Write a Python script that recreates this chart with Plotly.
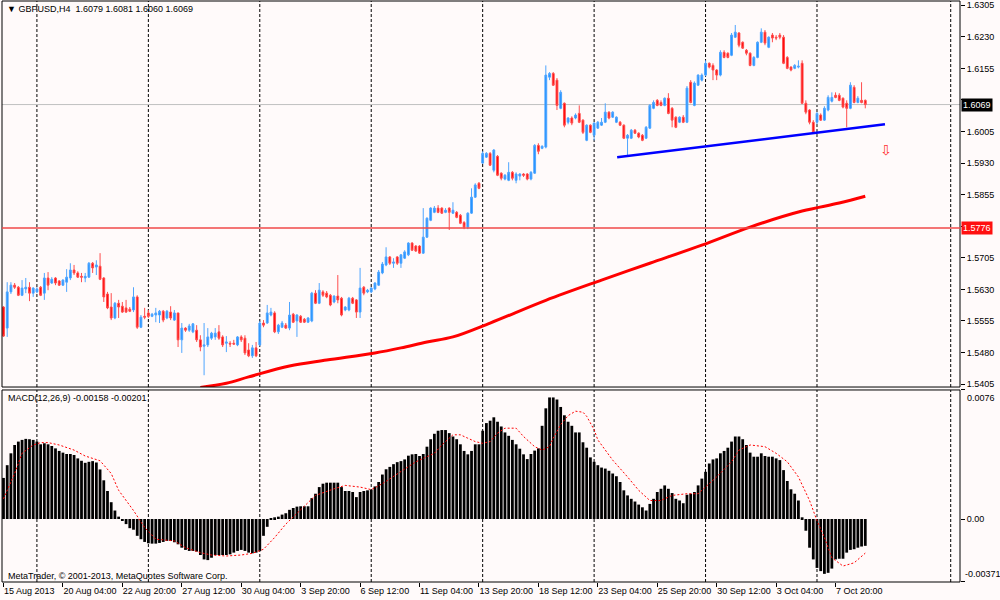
import plotly.graph_objects as go

# GBPUSD H4 candles, one entry per bar (bar index is used on the x axis)
opens = [
    1.5588, 1.5538, 1.5624, 1.5640, 1.5635, 1.5616, 1.5631, 1.5635, 1.5621, 1.5624,
    1.5635, 1.5621, 1.5657, 1.5645, 1.5657, 1.5650, 1.5640, 1.5647, 1.5657, 1.5676,
    1.5669, 1.5661, 1.5657, 1.5659, 1.5692, 1.5683, 1.5685, 1.5657, 1.5619, 1.5588,
    1.5562, 1.5597, 1.5590, 1.5586, 1.5583, 1.5581, 1.5612, 1.5540, 1.5566, 1.5574,
    1.5566, 1.5569, 1.5569, 1.5578, 1.5562, 1.5576, 1.5557, 1.5574, 1.5510, 1.5538,
    1.5533, 1.5529, 1.5533, 1.5510, 1.5495, 1.5498, 1.5514, 1.5517, 1.5529, 1.5517,
    1.5502, 1.5502, 1.5502, 1.5498, 1.5517, 1.5514, 1.5486, 1.5472, 1.5491, 1.5498,
    1.5550, 1.5550, 1.5569, 1.5574, 1.5529, 1.5540, 1.5545, 1.5538, 1.5571, 1.5555,
    1.5566, 1.5559, 1.5552, 1.5555, 1.5621, 1.5597, 1.5624, 1.5621, 1.5616, 1.5600,
    1.5614, 1.5609, 1.5581, 1.5581, 1.5609, 1.5605, 1.5576, 1.5635, 1.5624, 1.5624,
    1.5631, 1.5640, 1.5669, 1.5688, 1.5707, 1.5692, 1.5707, 1.5692, 1.5704, 1.5712,
    1.5740, 1.5733, 1.5733, 1.5716, 1.5754, 1.5794, 1.5813, 1.5823, 1.5823, 1.5813,
    1.5823, 1.5811, 1.5813, 1.5806, 1.5789, 1.5778, 1.5811, 1.5849, 1.5882, 1.5930,
    1.5944, 1.5953, 1.5913, 1.5946, 1.5906, 1.5892, 1.5889, 1.5908, 1.5889, 1.5899,
    1.5904, 1.5904, 1.5892, 1.5906, 1.5972, 1.5965, 1.5968, 1.6134, 1.6143, 1.6127,
    1.6060, 1.6072, 1.6027, 1.6037, 1.6037, 1.6048, 1.6032, 1.5984, 1.6020, 1.5996,
    1.6013, 1.6020, 1.6027, 1.6051, 1.6039, 1.6027, 1.6027, 1.6020, 1.5989, 1.5989,
    1.6008, 1.6001, 1.5996, 1.5989, 1.6013, 1.6060, 1.6079, 1.6074, 1.6067, 1.6084,
    1.6060, 1.6039, 1.6027, 1.6039, 1.6027, 1.6122, 1.6067, 1.6115, 1.6127, 1.6139,
    1.6167, 1.6162, 1.6151, 1.6139, 1.6193, 1.6191, 1.6186, 1.6229, 1.6239, 1.6217,
    1.6198, 1.6191, 1.6162, 1.6181, 1.6217, 1.6241, 1.6205, 1.6234, 1.6229, 1.6234,
    1.6229, 1.6181, 1.6158, 1.6155, 1.6158, 1.6167, 1.6072, 1.6056, 1.6027, 1.6027,
    1.6044, 1.6032, 1.6056, 1.6077, 1.6091, 1.6091, 1.6084, 1.6072, 1.6060, 1.6110,
    1.6074, 1.6079, 1.6079,
]
highs = [
    1.5590, 1.5647, 1.5647, 1.5645, 1.5638, 1.5652, 1.5657, 1.5647, 1.5635, 1.5635,
    1.5638, 1.5669, 1.5671, 1.5659, 1.5659, 1.5652, 1.5654, 1.5678, 1.5692, 1.5688,
    1.5673, 1.5669, 1.5669, 1.5695, 1.5695, 1.5699, 1.5716, 1.5659, 1.5624, 1.5621,
    1.5600, 1.5605, 1.5600, 1.5605, 1.5588, 1.5635, 1.5616, 1.5569, 1.5586, 1.5581,
    1.5574, 1.5586, 1.5581, 1.5581, 1.5581, 1.5590, 1.5581, 1.5574, 1.5550, 1.5540,
    1.5548, 1.5550, 1.5545, 1.5521, 1.5550, 1.5538, 1.5529, 1.5538, 1.5545, 1.5521,
    1.5519, 1.5507, 1.5510, 1.5519, 1.5521, 1.5521, 1.5502, 1.5498, 1.5505, 1.5555,
    1.5557, 1.5593, 1.5586, 1.5578, 1.5548, 1.5555, 1.5550, 1.5600, 1.5574, 1.5571,
    1.5569, 1.5562, 1.5564, 1.5624, 1.5628, 1.5645, 1.5628, 1.5626, 1.5619, 1.5616,
    1.5664, 1.5612, 1.5590, 1.5612, 1.5612, 1.5607, 1.5681, 1.5638, 1.5631, 1.5635,
    1.5647, 1.5676, 1.5695, 1.5730, 1.5709, 1.5704, 1.5709, 1.5714, 1.5723, 1.5742,
    1.5742, 1.5735, 1.5735, 1.5823, 1.5801, 1.5825, 1.5828, 1.5830, 1.5825, 1.5823,
    1.5825, 1.5837, 1.5816, 1.5809, 1.5792, 1.5813, 1.5870, 1.5882, 1.5885, 1.5958,
    1.5956, 1.5956, 1.5963, 1.5949, 1.5908, 1.5904, 1.5932, 1.5911, 1.5908, 1.5906,
    1.5906, 1.5906, 1.5911, 1.5975, 1.5977, 1.5972, 1.6162, 1.6146, 1.6146, 1.6132,
    1.6103, 1.6074, 1.6039, 1.6041, 1.6048, 1.6067, 1.6034, 1.6022, 1.6022, 1.6027,
    1.6030, 1.6037, 1.6072, 1.6053, 1.6053, 1.6041, 1.6030, 1.6022, 1.5999, 1.6011,
    1.6011, 1.6003, 1.5999, 1.6018, 1.6070, 1.6079, 1.6082, 1.6079, 1.6086, 1.6096,
    1.6063, 1.6041, 1.6041, 1.6044, 1.6113, 1.6127, 1.6124, 1.6141, 1.6143, 1.6174,
    1.6169, 1.6167, 1.6153, 1.6198, 1.6198, 1.6193, 1.6239, 1.6258, 1.6241, 1.6219,
    1.6201, 1.6193, 1.6184, 1.6219, 1.6250, 1.6246, 1.6231, 1.6239, 1.6234, 1.6239,
    1.6234, 1.6184, 1.6160, 1.6165, 1.6174, 1.6174, 1.6079, 1.6058, 1.6032, 1.6051,
    1.6048, 1.6065, 1.6091, 1.6098, 1.6098, 1.6096, 1.6086, 1.6079, 1.6122, 1.6115,
    1.6089, 1.6122, 1.6081,
]
lows = [
    1.5517, 1.5517, 1.5619, 1.5631, 1.5614, 1.5614, 1.5621, 1.5602, 1.5612, 1.5621,
    1.5614, 1.5605, 1.5628, 1.5643, 1.5640, 1.5638, 1.5638, 1.5624, 1.5652, 1.5664,
    1.5657, 1.5647, 1.5647, 1.5657, 1.5669, 1.5664, 1.5652, 1.5600, 1.5583, 1.5557,
    1.5559, 1.5562, 1.5574, 1.5574, 1.5576, 1.5576, 1.5536, 1.5538, 1.5559, 1.5562,
    1.5564, 1.5552, 1.5550, 1.5552, 1.5559, 1.5557, 1.5555, 1.5493, 1.5479, 1.5529,
    1.5529, 1.5526, 1.5505, 1.5483, 1.5426, 1.5493, 1.5510, 1.5510, 1.5510, 1.5493,
    1.5481, 1.5493, 1.5498, 1.5495, 1.5505, 1.5474, 1.5469, 1.5467, 1.5469, 1.5495,
    1.5540, 1.5548, 1.5566, 1.5526, 1.5524, 1.5538, 1.5536, 1.5533, 1.5550, 1.5517,
    1.5550, 1.5550, 1.5550, 1.5552, 1.5595, 1.5595, 1.5612, 1.5609, 1.5590, 1.5597,
    1.5597, 1.5566, 1.5578, 1.5578, 1.5595, 1.5562, 1.5562, 1.5616, 1.5621, 1.5621,
    1.5628, 1.5638, 1.5666, 1.5685, 1.5688, 1.5681, 1.5688, 1.5681, 1.5702, 1.5709,
    1.5721, 1.5719, 1.5714, 1.5714, 1.5752, 1.5792, 1.5811, 1.5811, 1.5809, 1.5811,
    1.5771, 1.5809, 1.5799, 1.5785, 1.5773, 1.5773, 1.5809, 1.5847, 1.5868, 1.5928,
    1.5942, 1.5923, 1.5908, 1.5899, 1.5889, 1.5889, 1.5887, 1.5889, 1.5882, 1.5889,
    1.5897, 1.5889, 1.5889, 1.5904, 1.5951, 1.5963, 1.5965, 1.6127, 1.6113, 1.6056,
    1.6058, 1.6015, 1.6022, 1.6020, 1.6034, 1.6025, 1.5999, 1.5982, 1.6001, 1.5984,
    1.6011, 1.6018, 1.6025, 1.6034, 1.6037, 1.6025, 1.6018, 1.5987, 1.5949, 1.5987,
    1.5999, 1.5989, 1.5982, 1.5987, 1.6011, 1.6058, 1.6065, 1.6065, 1.6065, 1.6046,
    1.6015, 1.6013, 1.6025, 1.6025, 1.6025, 1.6072, 1.6065, 1.6113, 1.6124, 1.6136,
    1.6155, 1.6127, 1.6127, 1.6136, 1.6179, 1.6179, 1.6184, 1.6227, 1.6205, 1.6201,
    1.6186, 1.6160, 1.6160, 1.6179, 1.6215, 1.6210, 1.6203, 1.6217, 1.6222, 1.6224,
    1.6165, 1.6153, 1.6148, 1.6153, 1.6155, 1.6070, 1.6046, 1.6022, 1.5999, 1.6022,
    1.6030, 1.6030, 1.6053, 1.6074, 1.6084, 1.6077, 1.6060, 1.6015, 1.6058, 1.6072,
    1.6072, 1.6072, 1.6060,
]
closes = [
    1.5519, 1.5624, 1.5640, 1.5635, 1.5616, 1.5633, 1.5635, 1.5621, 1.5633, 1.5631,
    1.5616, 1.5657, 1.5640, 1.5654, 1.5645, 1.5640, 1.5652, 1.5659, 1.5676, 1.5669,
    1.5659, 1.5659, 1.5661, 1.5692, 1.5681, 1.5688, 1.5654, 1.5612, 1.5586, 1.5562,
    1.5597, 1.5588, 1.5576, 1.5576, 1.5578, 1.5612, 1.5540, 1.5564, 1.5564, 1.5566,
    1.5571, 1.5574, 1.5578, 1.5557, 1.5578, 1.5562, 1.5574, 1.5510, 1.5538, 1.5533,
    1.5543, 1.5548, 1.5510, 1.5493, 1.5498, 1.5517, 1.5526, 1.5526, 1.5514, 1.5498,
    1.5505, 1.5500, 1.5500, 1.5517, 1.5510, 1.5479, 1.5472, 1.5491, 1.5472, 1.5550,
    1.5545, 1.5574, 1.5576, 1.5529, 1.5545, 1.5550, 1.5538, 1.5569, 1.5552, 1.5569,
    1.5552, 1.5552, 1.5562, 1.5621, 1.5597, 1.5628, 1.5616, 1.5612, 1.5593, 1.5614,
    1.5605, 1.5569, 1.5588, 1.5609, 1.5597, 1.5576, 1.5633, 1.5621, 1.5628, 1.5633,
    1.5645, 1.5671, 1.5690, 1.5707, 1.5692, 1.5695, 1.5692, 1.5712, 1.5719, 1.5740,
    1.5723, 1.5721, 1.5716, 1.5754, 1.5799, 1.5823, 1.5823, 1.5813, 1.5811, 1.5818,
    1.5813, 1.5818, 1.5801, 1.5787, 1.5778, 1.5811, 1.5849, 1.5878, 1.5870, 1.5953,
    1.5953, 1.5925, 1.5961, 1.5901, 1.5894, 1.5901, 1.5908, 1.5894, 1.5904, 1.5904,
    1.5901, 1.5892, 1.5908, 1.5972, 1.5958, 1.5970, 1.6139, 1.6143, 1.6115, 1.6067,
    1.6098, 1.6020, 1.6037, 1.6025, 1.6044, 1.6027, 1.6003, 1.6020, 1.6003, 1.6025,
    1.6027, 1.6027, 1.6051, 1.6037, 1.6051, 1.6039, 1.6020, 1.5989, 1.5996, 1.6008,
    1.6001, 1.5992, 1.5984, 1.6015, 1.6067, 1.6074, 1.6067, 1.6067, 1.6084, 1.6048,
    1.6032, 1.6015, 1.6039, 1.6027, 1.6108, 1.6074, 1.6120, 1.6139, 1.6139, 1.6167,
    1.6158, 1.6151, 1.6139, 1.6193, 1.6181, 1.6181, 1.6234, 1.6241, 1.6210, 1.6203,
    1.6191, 1.6162, 1.6181, 1.6217, 1.6241, 1.6215, 1.6229, 1.6227, 1.6227, 1.6229,
    1.6167, 1.6155, 1.6151, 1.6162, 1.6160, 1.6072, 1.6051, 1.6027, 1.6003, 1.6048,
    1.6032, 1.6060, 1.6086, 1.6086, 1.6086, 1.6079, 1.6063, 1.6060, 1.6115, 1.6074,
    1.6084, 1.6074, 1.6069,
]

# MACD(12,26,9) main line (histogram) per bar
macd = [
    0.00242, 0.00317, 0.00387, 0.00436, 0.00456, 0.00466, 0.00472, 0.00470, 0.00466, 0.00456,
    0.00440, 0.00446, 0.00440, 0.00430, 0.00416, 0.00401, 0.00391, 0.00383, 0.00383, 0.00377,
    0.00357, 0.00343, 0.00331, 0.00337, 0.00341, 0.00333, 0.00292, 0.00228, 0.00165, 0.00099,
    0.00050, 0.00014, -0.00010, -0.00030, -0.00054, -0.00063, -0.00099, -0.00119, -0.00135, -0.00143,
    -0.00145, -0.00145, -0.00141, -0.00135, -0.00129, -0.00129, -0.00137, -0.00149, -0.00169, -0.00182,
    -0.00188, -0.00188, -0.00192, -0.00212, -0.00238, -0.00242, -0.00228, -0.00212, -0.00212, -0.00212,
    -0.00212, -0.00208, -0.00198, -0.00188, -0.00182, -0.00188, -0.00198, -0.00202, -0.00198, -0.00188,
    -0.00099, -0.00046, 0.00004, 0.00010, 0.00014, 0.00026, 0.00034, 0.00054, 0.00065, 0.00073,
    0.00075, 0.00075, 0.00075, 0.00123, 0.00149, 0.00188, 0.00208, 0.00214, 0.00214, 0.00214,
    0.00214, 0.00188, 0.00165, 0.00165, 0.00159, 0.00129, 0.00159, 0.00165, 0.00169, 0.00173,
    0.00192, 0.00218, 0.00262, 0.00293, 0.00307, 0.00323, 0.00335, 0.00341, 0.00351, 0.00373,
    0.00381, 0.00383, 0.00371, 0.00383, 0.00426, 0.00470, 0.00502, 0.00520, 0.00524, 0.00524,
    0.00506, 0.00486, 0.00470, 0.00440, 0.00401, 0.00381, 0.00401, 0.00440, 0.00440, 0.00520,
    0.00565, 0.00579, 0.00599, 0.00573, 0.00545, 0.00510, 0.00490, 0.00466, 0.00440, 0.00414,
    0.00381, 0.00353, 0.00383, 0.00403, 0.00416, 0.00549, 0.00652, 0.00716, 0.00716, 0.00704,
    0.00660, 0.00611, 0.00573, 0.00549, 0.00510, 0.00510, 0.00452, 0.00420, 0.00363, 0.00337,
    0.00317, 0.00303, 0.00297, 0.00284, 0.00268, 0.00252, 0.00218, 0.00169, 0.00139, 0.00119,
    0.00103, 0.00085, 0.00069, 0.00050, 0.00089, 0.00119, 0.00159, 0.00178, 0.00198, 0.00178,
    0.00153, 0.00119, 0.00109, 0.00093, 0.00143, 0.00149, 0.00159, 0.00198, 0.00238, 0.00278,
    0.00327, 0.00351, 0.00357, 0.00387, 0.00401, 0.00420, 0.00456, 0.00486, 0.00486, 0.00470,
    0.00436, 0.00391, 0.00367, 0.00367, 0.00387, 0.00371, 0.00367, 0.00367, 0.00357, 0.00347,
    0.00288, 0.00224, 0.00175, 0.00149, 0.00109, 0.00010, -0.00069, -0.00169, -0.00238, -0.00288,
    -0.00307, -0.00323, -0.00317, -0.00292, -0.00238, -0.00234, -0.00234, -0.00198, -0.00182, -0.00178,
    -0.00169, -0.00162, -0.00158,
]

# MACD signal line, read at a subset of bars
sig_idx = [0, 3, 5, 8, 10, 12, 15, 19, 22, 26, 29, 31, 35, 38, 41, 46, 49, 53, 56, 60,
           64, 67, 70, 73, 76, 79, 80, 84, 89, 92, 96, 99, 102, 107, 111, 116, 118, 121, 123, 125,
           127, 129, 131, 133, 135, 138, 140, 143, 145, 147, 148, 150, 152, 154, 156, 157, 159, 160, 161, 164,
           168, 171, 174, 177, 180, 184, 187, 189, 192, 196, 198, 201, 205, 208, 211, 214, 217, 219, 221, 223,
           226, 229, 232]
sig_val = [0.00119, 0.00268, 0.00387, 0.00436, 0.00450, 0.00450, 0.00436, 0.00406, 0.00371, 0.00343,
           0.00268, 0.00169, 0.00050, -0.00050, -0.00119, -0.00129, -0.00169, -0.00198, -0.00212, -0.00218,
           -0.00212, -0.00202, -0.00178, -0.00109, -0.00030, 0.00034, 0.00050, 0.00139, 0.00178, 0.00198,
           0.00188, 0.00173, 0.00208, 0.00278, 0.00337, 0.00387, 0.00436, 0.00496, 0.00496, 0.00476,
           0.00456, 0.00446, 0.00456, 0.00506, 0.00535, 0.00535, 0.00486, 0.00426, 0.00406, 0.00426,
           0.00476, 0.00556, 0.00609, 0.00635, 0.00629, 0.00605, 0.00526, 0.00466, 0.00436, 0.00347,
           0.00248, 0.00169, 0.00109, 0.00109, 0.00139, 0.00149, 0.00149, 0.00188, 0.00248, 0.00337,
           0.00406, 0.00436, 0.00426, 0.00387, 0.00337, 0.00248, 0.00109, -0.00010, -0.00109, -0.00228,
           -0.00277, -0.00258, -0.00201]

# red moving average, read at a subset of bars
ma_idx = [53, 60, 66, 77, 87, 100, 107, 114, 121, 131, 146, 161, 174, 188, 201, 215, 225, 232]
ma_val = [1.5397, 1.5407, 1.5422, 1.5448, 1.5462, 1.5479, 1.5491, 1.5505, 1.5517, 1.5550,
          1.5604, 1.5652, 1.5692, 1.5735, 1.5778, 1.5816, 1.5835, 1.5851]

# blue support trendline
trend_idx = [165.2, 237.3]
trend_val = [1.5944, 1.6022]

date_labels = ["15 Aug 2013", "20 Aug 04:00", "22 Aug 20:00", "27 Aug 12:00", "30 Aug 04:00",
               "3 Sep 20:00", "6 Sep 12:00", "11 Sep 04:00", "13 Sep 20:00", "18 Sep 12:00",
               "23 Sep 04:00", "25 Sep 20:00", "30 Sep 12:00", "3 Oct 04:00", "7 Oct 20:00"]
date_idx = [16 * k for k in range(len(date_labels))]
week_grid = [9, 39, 69, 99, 129, 159, 189, 219, 255]
price_ticks = [1.6305, 1.6230, 1.6155, 1.6080, 1.6005, 1.5930, 1.5855, 1.5780,
               1.5705, 1.5630, 1.5555, 1.5480, 1.5405]
bid = 1.6069
level = 1.5776
arrow_pos = (237.6, 1.5961)

FONT = "Liberation Sans, Arial, sans-serif"
BG = "#FFFAFA"

bars = list(range(len(closes)))
# the two ticks hidden behind the price boxes keep their mark but no text
price_text = ["" if abs(p - bid) < 0.002 or abs(p - level) < 0.002 else "%.4f" % p
              for p in price_ticks]

fig = go.Figure()

fig.add_trace(go.Candlestick(
    x=bars, open=opens, high=highs, low=lows, close=closes,
    xaxis="x", yaxis="y", whiskerwidth=0,
    increasing=dict(line=dict(color="#4FA5FF", width=1), fillcolor="#1E90FF"),
    decreasing=dict(line=dict(color="#FF4D4D", width=1), fillcolor="#FF0000"),
    showlegend=False, hoverinfo="skip"))

fig.add_trace(go.Scatter(x=ma_idx, y=ma_val, mode="lines", xaxis="x", yaxis="y",
                         line=dict(color="#FF0000", width=3, shape="spline"),
                         showlegend=False, hoverinfo="skip"))
fig.add_trace(go.Scatter(x=trend_idx, y=trend_val, mode="lines", xaxis="x", yaxis="y",
                         line=dict(color="#0000FF", width=2.5),
                         showlegend=False, hoverinfo="skip"))

fig.add_trace(go.Bar(x=bars, y=macd, xaxis="x", yaxis="y2",
                     marker=dict(color="black", line=dict(width=0)),
                     showlegend=False, hoverinfo="skip"))
fig.add_trace(go.Scatter(x=sig_idx, y=sig_val, mode="lines", xaxis="x", yaxis="y2",
                         line=dict(color="#FF0000", width=1, dash="2px,2px"),
                         showlegend=False, hoverinfo="skip"))

shapes = []
# panel frames and weekly dotted grid
for yr in ["y domain", "y2 domain"]:
    shapes.append(dict(type="rect", xref="x domain", yref=yr, x0=0, x1=1, y0=0, y1=1,
                       line=dict(color="black", width=1), layer="above"))
    for g in week_grid:
        shapes.append(dict(type="line", xref="x", yref=yr, x0=g, x1=g, y0=0, y1=1,
                           line=dict(color="black", width=1, dash="3px,2px"), layer="below"))
shapes.append(dict(type="line", xref="x domain", yref="y", x0=0, x1=1, y0=bid, y1=bid,
                   line=dict(color="#C0C0C0", width=1), layer="below"))
shapes.append(dict(type="line", xref="x domain", yref="y", x0=0, x1=1, y0=level, y1=level,
                   line=dict(color="#F04848", width=1.5), layer="above"))

small = dict(family=FONT, size=9, color="black")
annotations = [
    dict(xref="paper", yref="paper", x=0.003, y=0.986, xanchor="left", yanchor="middle",
         text="\u25bc GBPUSD,H4\u00a0 1.6079 1.6081 1.6060 1.6069", showarrow=False, font=small),
    dict(xref="paper", yref="paper", x=0.004, y=0.316, xanchor="left", yanchor="middle",
         text="MACD(12,26,9) -0.00158 -0.00201", showarrow=False, font=small),
    dict(xref="paper", yref="paper", x=0.004, y=0.010, xanchor="left", yanchor="middle",
         text="MetaTrader, \u00a9 2001-2013, MetaQuotes Software Corp.", showarrow=False, font=small),
    dict(xref="paper", yref="y", x=1, y=bid, xanchor="left", yanchor="middle", xshift=1,
         text="1.6069", showarrow=False, bgcolor="black", borderpad=1,
         font=dict(family=FONT, size=9, color="white")),
    dict(xref="paper", yref="y", x=1, y=level, xanchor="left", yanchor="middle", xshift=1,
         text="1.5776", showarrow=False, bgcolor="#FF1010", borderpad=1,
         font=dict(family=FONT, size=9, color="white")),
    dict(xref="paper", yref="y2", x=1, y=0.0076, xanchor="left", yanchor="top", xshift=5,
         yshift=-1, text="0.0076", showarrow=False, font=small),
    dict(xref="paper", yref="y2", x=1, y=-0.00371, xanchor="left", yanchor="bottom", xshift=3,
         yshift=1, text="-0.00371", showarrow=False, font=small),
    dict(xref="x", yref="y", x=arrow_pos[0], y=arrow_pos[1], text="\u21e9", showarrow=False,
         font=dict(family="DejaVu Sans", size=14, color="#FF3030")),
]

fig.update_layout(
    width=1000, height=600,
    margin=dict(l=2, r=40, t=1, b=18, autoexpand=False),
    paper_bgcolor=BG, plot_bgcolor=BG,
    font=small,
    bargap=0.25, boxgap=0.3,
    shapes=shapes, annotations=annotations,
    xaxis=dict(domain=[0, 1], anchor="y2", range=[-0.4, 257.5], automargin=False,
               showgrid=False, zeroline=False, rangeslider=dict(visible=False),
               tickvals=date_idx, ticktext=date_labels, tickangle=0, ticks="outside", ticklen=4,
               tickcolor="black", ticklabelposition="outside right", tickfont=small),
    yaxis=dict(domain=[0.3356, 1], anchor="x", side="right", range=[1.5398, 1.6315],
               automargin=False, showgrid=False, zeroline=False,
               tickvals=price_ticks, ticktext=price_text,
               ticks="outside", ticklen=4, tickcolor="black", tickfont=small),
    yaxis2=dict(domain=[0, 0.3305], anchor="x", side="right", range=[-0.00371, 0.0076],
                automargin=False, showgrid=False, zeroline=False, tickvals=[0.0076, 0, -0.00371],
                ticktext=["", "0.00", ""], ticks="outside", ticklen=4, tickcolor="black",
                tickfont=small),
)

# the page's default body margin would push the 1000x600 figure out of the window
fig.write_html("out.html", config={"displayModeBar": False},
               post_script="document.body.style.margin='0px';")
